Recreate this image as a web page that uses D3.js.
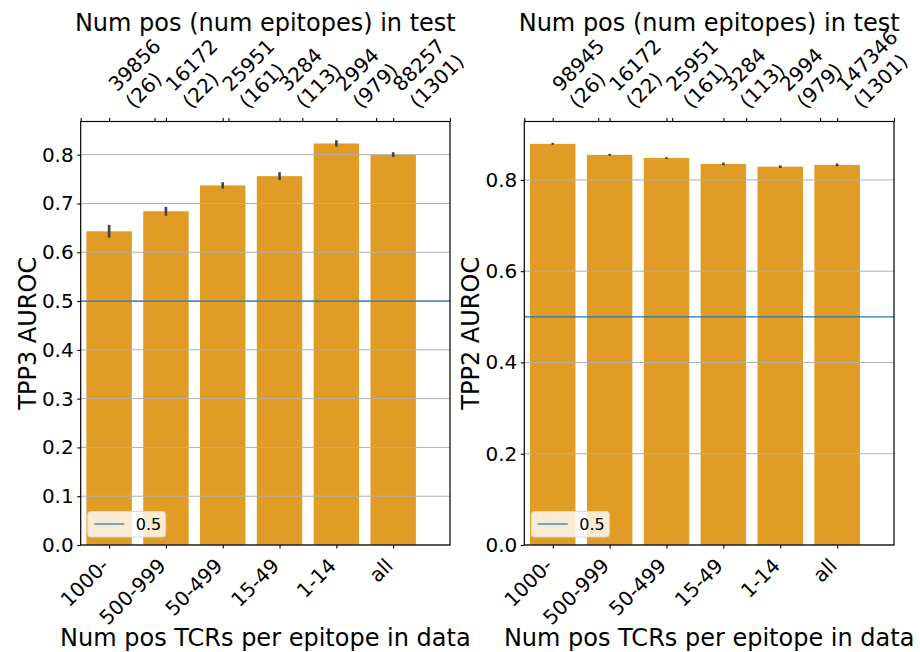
<!DOCTYPE html>
<html>
<head>
<meta charset="utf-8">
<script src="https://cdn.jsdelivr.net/npm/d3@7"></script>
<style>
  body { margin: 0; background: #fff; }
  svg text { font-family: "DejaVu Sans", sans-serif; fill: #000; }
</style>
</head>
<body>
<div id="chart"></div>
<script>
// Data
const categories = ["1000-", "500-999", "50-499", "15-49", "1-14", "all"];

const tpp3Values = [0.643, 0.684, 0.737, 0.756, 0.823, 0.800];
const tpp3Errors = [0.013, 0.009, 0.0065, 0.008, 0.0065, 0.005];
const tpp3TopLabels = [["39856", "(26)"], ["16172", "(22)"], ["25951", "(161)"],
                       ["3284", "(113)"], ["2994", "(979)"], ["88257", "(1301)"]];
const tpp3Ticks = [0.0, 0.1, 0.2, 0.3, 0.4, 0.5, 0.6, 0.7, 0.8];

const tpp2Values = [0.879, 0.855, 0.848, 0.835, 0.829, 0.833];
const tpp2Errors = [0.002, 0.002, 0.002, 0.003, 0.003, 0.003];
const tpp2TopLabels = [["98945", "(26)"], ["16172", "(22)"], ["25951", "(161)"],
                       ["3284", "(113)"], ["2994", "(979)"], ["147346", "(1301)"]];
const tpp2Ticks = [0.0, 0.2, 0.4, 0.6, 0.8];

const baseline = 0.5;

const width = 920, height = 652;
const barColor = "#e09c24";
const tickFont = "20px", labelFont = "24px", legendFont = "16px";

const svg = d3.select("#chart")
    .append("svg")
    .attr("width", width)
    .attr("height", height);

function drawPanel(opt) {
    const top = 121.5, bottom = 545;
    const g = svg.append("g");

    const x = d3.scaleLinear().domain([-0.5, 6.0]).range([opt.left, opt.right]);
    const y = d3.scaleLinear().domain([0, opt.yMax]).range([bottom, top]);

    // bars
    g.selectAll(".bar")
        .data(opt.values)
        .enter().append("rect")
        .attr("class", "bar")
        .attr("x", (d, i) => x(i - 0.4))
        .attr("width", x(0.4) - x(-0.4))
        .attr("y", d => y(d))
        .attr("height", d => bottom - y(d))
        .attr("fill", barColor);

    // grid
    g.selectAll(".grid")
        .data(opt.ticks)
        .enter().append("line")
        .attr("x1", opt.left).attr("x2", opt.right)
        .attr("y1", d => y(d)).attr("y2", d => y(d))
        .attr("stroke", "#b0b0b0")
        .attr("stroke-width", 1);

    // 0.5 line
    g.append("line")
        .attr("x1", opt.left).attr("x2", opt.right)
        .attr("y1", y(baseline)).attr("y2", y(baseline))
        .attr("stroke", "#1f77b4")
        .attr("stroke-width", 1.2);

    // error bars
    g.selectAll(".err")
        .data(opt.values)
        .enter().append("line")
        .attr("x1", (d, i) => x(i)).attr("x2", (d, i) => x(i))
        .attr("y1", (d, i) => y(d - opt.errors[i]))
        .attr("y2", (d, i) => y(d + opt.errors[i]))
        .attr("stroke", "#424242")
        .attr("stroke-width", 2.6);

    // y axis
    const yAxis = g.append("g")
        .attr("transform", "translate(" + opt.left + ",0)")
        .call(d3.axisLeft(y).tickValues(opt.ticks).tickFormat(d3.format(".1f"))
            .tickSize(3.5).tickPadding(3.5).tickSizeOuter(0));
    yAxis.select(".domain").remove();
    yAxis.selectAll("text").style("font-size", tickFont).attr("font-family", null);
    yAxis.selectAll("line").attr("stroke-width", 1.1);

    // bottom axis
    const xAxis = g.append("g")
        .attr("transform", "translate(0," + bottom + ")")
        .call(d3.axisBottom(x).tickValues(d3.range(categories.length))
            .tickFormat("").tickSize(3.5).tickSizeOuter(0));
    xAxis.select(".domain").remove();
    xAxis.selectAll("line").attr("stroke-width", 1.1);

    g.selectAll(".xlab")
        .data(categories)
        .enter().append("text")
        .attr("text-anchor", "end")
        .style("font-size", tickFont)
        .attr("transform", (d, i) => "translate(" + (x(i) + 1) + "," + (bottom + 22) + ") rotate(-45)")
        .text(d => d);

    // top twin axis: fraction ticks plus ticks at bar centres
    const frac = d3.scaleLinear().domain([0, 1]).range([opt.left, opt.right]);
    const topA = g.append("g")
        .attr("transform", "translate(0," + top + ")")
        .call(d3.axisTop(frac).tickValues([0, 0.2, 0.4, 0.6, 0.8, 1.0])
            .tickFormat("").tickSize(3.5).tickSizeOuter(0));
    topA.select(".domain").remove();
    topA.selectAll("line").attr("stroke-width", 1.1);
    const topB = g.append("g")
        .attr("transform", "translate(0," + top + ")")
        .call(d3.axisTop(x).tickValues(d3.range(categories.length))
            .tickFormat("").tickSize(3.5).tickSizeOuter(0));
    topB.select(".domain").remove();
    topB.selectAll("line").attr("stroke-width", 1.1);

    opt.topLabels.forEach((lines, i) => {
        const t = g.append("text")
            .style("font-size", tickFont)
            .attr("transform", "translate(" + (x(i) + 8) + "," + (top - 29) + ") rotate(-45)");
        lines.forEach((s, k) => {
            t.append("tspan").attr("x", 0).attr("dy", k === 0 ? 0 : "1.2em").text(s);
        });
    });

    // spines
    g.append("rect")
        .attr("x", opt.left).attr("y", top)
        .attr("width", opt.right - opt.left).attr("height", bottom - top)
        .attr("fill", "none")
        .attr("stroke", "#000")
        .attr("stroke-width", 1.2);

    // legend
    const lg = g.append("g").attr("transform", "translate(" + (opt.left + 7) + ",511.5)");
    lg.append("rect")
        .attr("width", 78).attr("height", 25.5)
        .attr("rx", 3)
        .attr("fill", "#fff").attr("fill-opacity", 0.8)
        .attr("stroke", "#d8d8d8");
    lg.append("line")
        .attr("x1", 6.5).attr("x2", 36.5)
        .attr("y1", 12.5).attr("y2", 12.5)
        .attr("stroke", "#1f77b4").attr("stroke-width", 1.2);
    lg.append("text")
        .attr("x", 48).attr("y", 18.5)
        .style("font-size", legendFont)
        .text("0.5");

    // labels
    const cx = (opt.left + opt.right) / 2;
    g.append("text")
        .attr("x", cx).attr("y", 31)
        .attr("text-anchor", "middle")
        .style("font-size", labelFont)
        .text("Num pos (num epitopes) in test");
    g.append("text")
        .attr("x", cx).attr("y", 645.5)
        .attr("text-anchor", "middle")
        .style("font-size", labelFont)
        .text("Num pos TCRs per epitope in data");
    g.append("text")
        .attr("transform", "translate(" + opt.yLabelX + "," + (top + bottom) / 2 + ") rotate(-90)")
        .attr("text-anchor", "middle")
        .style("font-size", labelFont)
        .text(opt.yLabel);
}

drawPanel({
    left: 80.7, right: 450, yMax: 0.868,
    values: tpp3Values, errors: tpp3Errors, ticks: tpp3Ticks,
    topLabels: tpp3TopLabels, yLabel: "TPP3 AUROC", yLabelX: 36
});

drawPanel({
    left: 524.3, right: 894, yMax: 0.928,
    values: tpp2Values, errors: tpp2Errors, ticks: tpp2Ticks,
    topLabels: tpp2TopLabels, yLabel: "TPP2 AUROC", yLabelX: 479
});
</script>
</body>
</html>
